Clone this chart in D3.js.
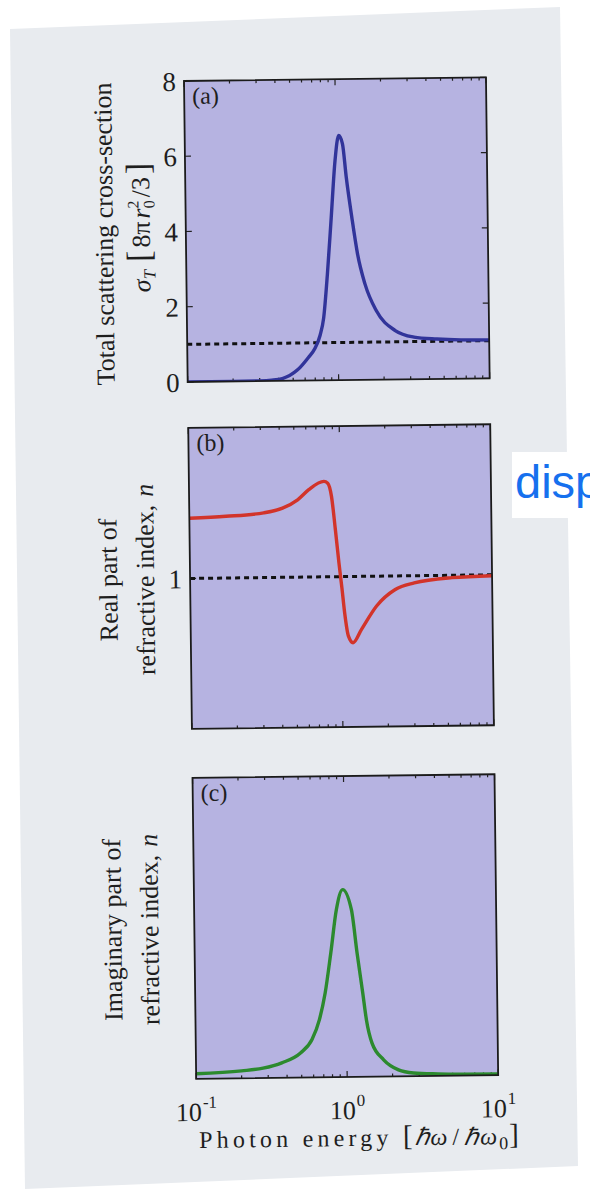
<!DOCTYPE html>
<html>
<head>
<meta charset="utf-8">
<script src="https://cdn.jsdelivr.net/npm/d3@7"></script>
<style>
  body { margin: 0; background: #fff; }
  svg { display: block; }
</style>
</head>
<body>
<div id="chart"></div>
<script>
var svgWidth = 590;
var svgHeight = 1189;

// ---- data ----
// (a) total scattering cross-section, units of 8*pi*r0^2/3
var energyA = [0.1, 0.2, 0.3, 0.36, 0.424, 0.533, 0.635, 0.7, 0.76, 0.805, 0.859, 0.92, 0.985, 1.047, 1.107, 1.166, 1.26, 1.365, 1.52, 1.8, 2.39, 3.18, 4.5, 6.5, 10];
var sigmaA = [0, 0, 0.005, 0.02, 0.06, 0.28, 0.62, 0.85, 1.2, 1.66, 2.82, 4.32, 5.83, 6.5, 6.28, 5.39, 4.32, 3.35, 2.55, 1.83, 1.3, 1.12, 1.06, 1.03, 1.02];

// (b) real part of refractive index (1 = dotted line)
var energyB = [0.1, 0.175, 0.311, 0.415, 0.523, 0.621, 0.783, 0.83, 0.877, 0.925, 0.971, 1.012, 1.049, 1.107, 1.186, 1.353, 1.71, 2.28, 3.05, 5.42, 10];
var realN = [1.2, 1.205, 1.215, 1.23, 1.257, 1.29, 1.317, 1.311, 1.267, 1.156, 1.045, 0.96, 0.88, 0.802, 0.78, 0.824, 0.901, 0.955, 0.976, 0.992, 0.997];

// (c) imaginary part of refractive index (arbitrary units)
var energyC = [0.1, 0.2, 0.278, 0.37, 0.493, 0.589, 0.662, 0.726, 0.797, 0.875, 0.966, 1.1, 1.19, 1.288, 1.355, 1.47, 1.75, 2.19, 2.75, 4, 6, 10];
var imagN = [0.017, 0.025, 0.033, 0.05, 0.082, 0.126, 0.192, 0.28, 0.413, 0.557, 0.623, 0.556, 0.412, 0.279, 0.19, 0.112, 0.056, 0.022, 0.011, 0.007, 0.005, 0.004];

var energyTicks = [0.1, 1, 10];
var energyTickExp = ["-1", "0", "1"];
var sigmaTicks = [0, 2, 4, 6, 8];
var realTicks = [1];

// ---- layout ----
var plotLeft = 184;
var plotW = 302;
var plotH = 301;
var serif = "'Liberation Serif', 'Times New Roman', serif";
var ink = "#1e1e1e";

var svg = d3.select("#chart")
  .append("svg")
  .attr("width", svgWidth)
  .attr("height", svgHeight);

var defs = svg.append("defs");

// the scanned page
svg.append("path")
  .attr("d", "M10,29 L560,7 L578,1166 L25,1189 Z")
  .attr("fill", "#e8ebef");

// the scan is turned a little, so everything sits in a rotated group
var scan = svg.append("g").attr("transform", "rotate(-0.7, 184, 81)");

var x = d3.scaleLog().domain([0.1, 10]).range([0, plotW]);

var panels = [
  {
    id: "a", top: 81, color: "#31349a",
    energy: energyA, values: sigmaA,
    y: d3.scaleLinear().domain([0, 8]).range([plotH, 0]),
    ticks: sigmaTicks, ref: 1
  },
  {
    id: "b", top: 428, color: "#d2342a",
    energy: energyB, values: realN,
    y: d3.scaleLinear().domain([0.5, 1.5]).range([plotH, 0]),
    ticks: realTicks, ref: 1
  },
  {
    id: "c", top: 778, color: "#2c8a2e",
    energy: energyC, values: imagN,
    y: d3.scaleLinear().domain([0, 1]).range([plotH, 0]),
    ticks: [], ref: null
  }
];

panels.forEach(function(p) {
  var g = scan.append("g").attr("transform", `translate(${plotLeft}, ${p.top})`);

  defs.append("clipPath").attr("id", "clip-" + p.id)
    .append("rect").attr("width", plotW).attr("height", plotH);

  g.append("rect")
    .attr("width", plotW)
    .attr("height", plotH)
    .attr("fill", "#b6b3e1");

  // log ticks along top and bottom, pointing inward
  var xt = x.ticks();
  g.selectAll("line.xt-top")
    .data(xt).enter().append("line")
    .attr("x1", d => x(d)).attr("x2", d => x(d))
    .attr("y1", 0).attr("y2", d => energyTicks.indexOf(d) >= 0 ? 6 : 3)
    .attr("stroke", "#222").attr("stroke-width", 1.2);
  g.selectAll("line.xt-bot")
    .data(xt).enter().append("line")
    .attr("x1", d => x(d)).attr("x2", d => x(d))
    .attr("y1", plotH).attr("y2", d => plotH - (energyTicks.indexOf(d) >= 0 ? 6 : 3))
    .attr("stroke", "#222").attr("stroke-width", 1.2);

  // y ticks on both sides
  g.selectAll("line.yt-l")
    .data(p.ticks).enter().append("line")
    .attr("x1", 0).attr("x2", 6)
    .attr("y1", d => p.y(d)).attr("y2", d => p.y(d))
    .attr("stroke", "#222").attr("stroke-width", 1.2);
  g.selectAll("line.yt-r")
    .data(p.ticks).enter().append("line")
    .attr("x1", plotW).attr("x2", plotW - 6)
    .attr("y1", d => p.y(d)).attr("y2", d => p.y(d))
    .attr("stroke", "#222").attr("stroke-width", 1.2);

  g.selectAll("text.ytl")
    .data(p.ticks).enter().append("text")
    .attr("x", -8)
    .attr("y", d => p.y(d))
    .attr("dy", "0.36em")
    .attr("text-anchor", "end")
    .attr("font-family", serif)
    .attr("font-size", 27)
    .attr("fill", ink)
    .text(d => d);

  if (p.ref !== null) {
    g.append("line")
      .attr("x1", 0).attr("x2", plotW)
      .attr("y1", p.y(p.ref)).attr("y2", p.y(p.ref))
      .attr("stroke", "#111")
      .attr("stroke-width", 3)
      .attr("stroke-dasharray", "5,4");
  }

  var line = d3.line()
    .x(d => x(d[0]))
    .y(d => p.y(d[1]))
    .curve(d3.curveMonotoneX);

  g.append("path")
    .datum(p.energy.map((e, i) => [e, p.values[i]]))
    .attr("clip-path", `url(#clip-${p.id})`)
    .attr("d", line)
    .attr("fill", "none")
    .attr("stroke", p.color)
    .attr("stroke-width", 3.4)
    .attr("stroke-linejoin", "round");

  g.append("rect")
    .attr("width", plotW)
    .attr("height", plotH)
    .attr("fill", "none")
    .attr("stroke", "#1b1b1b")
    .attr("stroke-width", 1.8);

  g.append("text")
    .attr("x", 8)
    .attr("y", 23)
    .attr("font-family", serif)
    .attr("font-size", 24)
    .attr("fill", ink)
    .text(`(${p.id})`);
});

// ---- y-axis titles ----
function yTitle(xPos, cy) {
  return scan.append("text")
    .attr("transform", `translate(${xPos}, ${cy}) rotate(-90)`)
    .attr("text-anchor", "middle")
    .attr("font-family", serif)
    .attr("font-size", 26)
    .attr("fill", ink);
}

yTitle(111, 81 + 152).text("Total scattering cross-section");

var t2 = yTitle(148, 81 + 146);
t2.append("tspan").attr("font-style", "italic").text("σ");
t2.append("tspan").attr("font-style", "italic").attr("font-size", 17).attr("dy", 5).text("T");
t2.append("tspan").attr("dy", -5).attr("dx", 8).attr("font-size", 34).text("[");
t2.append("tspan").attr("dx", 3).text("8π");
t2.append("tspan").attr("font-style", "italic").attr("dx", 3).text("r");
t2.append("tspan").attr("font-size", 16).attr("dy", -11).text("2");
t2.append("tspan").attr("font-size", 16).attr("dx", -8).attr("dy", 16).text("0");
t2.append("tspan").attr("dy", -5).attr("dx", 3).text("/3");
t2.append("tspan").attr("font-size", 34).attr("dx", 3).text("]");

yTitle(111, 428 + 151).text("Real part of");
var tb = yTitle(148, 428 + 151);
tb.append("tspan").text("refractive index,");
tb.append("tspan").attr("dx", 8).attr("font-style", "italic").text("n");

yTitle(111, 778 + 151).text("Imaginary part of");
var tc = yTitle(148, 778 + 151);
tc.append("tspan").text("refractive index,");
tc.append("tspan").attr("dx", 8).attr("font-style", "italic").text("n");

// ---- x tick labels and title ----
var xl = scan.selectAll("text.xtl")
  .data(energyTicks)
  .enter()
  .append("text")
  .attr("x", d => plotLeft + x(d))
  .attr("y", 1121)
  .attr("text-anchor", "middle")
  .attr("font-family", serif)
  .attr("font-size", 26)
  .attr("fill", ink);
xl.append("tspan").text("10");
xl.append("tspan")
  .attr("font-size", 17)
  .attr("dy", -13)
  .attr("dx", 1)
  .text((d, i) => energyTickExp[i]);

var xt = scan.append("text")
  .attr("x", 346)
  .attr("y", 1148)
  .attr("text-anchor", "middle")
  .attr("font-family", serif)
  .attr("font-size", 24)
  .attr("fill", ink);
xt.append("tspan").attr("letter-spacing", 4.2).text("Photon energy ");
xt.append("tspan").attr("font-size", 29).text("[");
xt.append("tspan").attr("dx", 2).attr("font-style", "italic").attr("letter-spacing", 1).text("ℏω");
xt.append("tspan").attr("dx", 4).text("/");
xt.append("tspan").attr("dx", 5).attr("font-style", "italic").attr("letter-spacing", 1).text("ℏω");
xt.append("tspan").attr("font-size", 18).attr("dx", 1).attr("dy", 5).text("0");
xt.append("tspan").attr("font-size", 29).attr("dx", 1).attr("dy", -5).text("]");

// ---- blue annotation on the right ----
svg.append("rect")
  .attr("x", 512).attr("y", 452)
  .attr("width", 78).attr("height", 66)
  .attr("fill", "#fff");
svg.append("text")
  .attr("x", 515)
  .attr("y", 498)
  .attr("font-family", "'Liberation Sans', Arial, sans-serif")
  .attr("font-size", 47)
  .attr("fill", "#1670ee")
  .text("disp");
</script>
</body>
</html>
